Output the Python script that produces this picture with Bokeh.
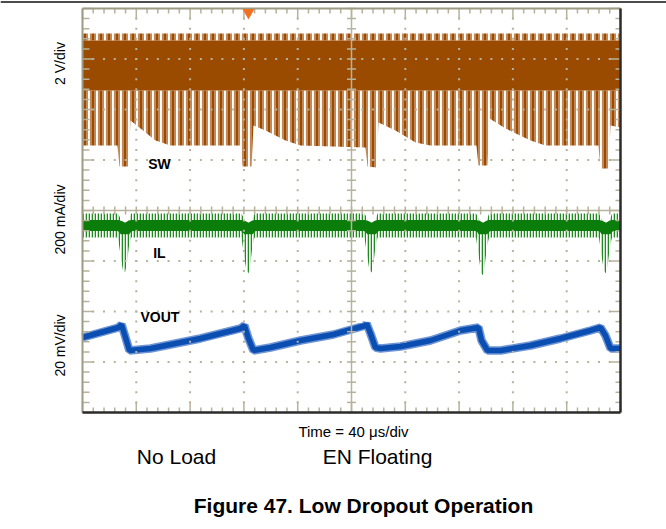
import numpy as np
from bokeh.plotting import figure
from bokeh.models import Range1d, Label
from bokeh.embed import file_html
from bokeh.resources import INLINE

# ---------------- scope settings ----------------
T_PER_DIV = 40.0      # us / div
N_XDIV = 10
N_YDIV = 8
SW_SCALE = 2.0        # V / div
IL_SCALE = 200.0      # mA / div
VOUT_SCALE = 20.0     # mV / div
SW_REF_DIV = 4.0
IL_REF_DIV = 3.5
VOUT_REF_DIV = 1.5
TRIGGER_T = 123.4     # us

# ---------------- SW (V) ----------------
SW_SPIKE_TOP = 7.01
SW_BAND_HIGH = 6.73
SW_BAND_LOW = 4.75
SW_T = [0, 26.0, 27.5, 34.2, 35.7, 43.1, 54.3, 65.4, 117.5, 119.0, 125.7, 127.1,
        136.1, 150.9, 162.1, 210.4, 211.9, 218.6, 220.1, 232.7, 247.6, 258.7,
        292.9, 294.4, 301.1, 302.6, 314.5, 333.1, 344.2, 383.6, 385.1, 391.1,
        392.6, 400]
SW_LOW = [2.57, 2.57, 1.74, 1.74, 3.56, 3.25, 2.77, 2.57, 2.57, 1.74, 1.74, 3.37,
          3.17, 2.77, 2.57, 2.50, 1.74, 1.70, 3.49, 3.17, 2.69, 2.57,
          2.57, 1.78, 1.78, 3.64, 3.25, 2.77, 2.57, 2.57, 1.66, 1.66,
          3.37, 3.29]

# ---------------- IL (mA) ----------------
IL_T = [0,
        26.4, 28.6, 30.1, 31.6, 33.1, 34.6, 36.1,
        118.2, 120.4, 121.9, 123.4, 124.9, 126.4, 127.9,
        209.7, 211.9, 213.4, 214.9, 216.4, 217.9, 219.4,
        292.6, 294.8, 296.3, 297.8, 299.3, 300.8, 302.3,
        384.0, 386.2, 387.7, 389.2, 390.7, 392.2, 393.7,
        400]
IL_HI = [88,
         88, 64, 44, 30, 44, 64, 88,
         88, 64, 44, 30, 44, 64, 88,
         88, 64, 44, 30, 44, 64, 88,
         88, 64, 44, 30, 44, 64, 88,
         88, 64, 44, 30, 44, 64, 88,
         88]
IL_MID = [40.6,
          40.6, 36, 30, 20, 30, 36, 40.6,
          40.6, 36, 30, 20, 30, 36, 40.6,
          40.6, 36, 30, 20, 30, 36, 40.6,
          40.6, 36, 30, 20, 30, 36, 40.6,
          40.6, 36, 30, 20, 30, 36, 40.6,
          40.6]
IL_LO = [-7,
         -7, -90, -137.6, -145.5, -105.9, -38.6, -7,
         -7, -90, -137.6, -149.5, -105.9, -38.6, -7,
         -7, -90, -137.6, -145.5, -105.9, -38.6, -7,
         -7, -90, -145.5, -157.4, -105.9, -38.6, -7,
         -7, -90, -137.6, -149.5, -105.9, -38.6, -7,
         -7]

# ---------------- VOUT (mV, AC) ----------------
VOUT_T = [0, 13.4, 26.8, 29.0, 32.0, 34.9, 50.6, 87.7, 117.5, 120.4, 123.4, 127.1,
          139.8, 162.1, 186.6, 210.4, 211.2, 214.1, 217.8, 221.6, 236.4, 258.7,
          281.0, 294.4, 296.7, 301.1, 310.8, 333.1, 355.4, 377.7, 385.1, 388.8,
          392.6, 400]
VOUT_MV = [-0.3, 1.68, 3.66, 4.85, -0.30, -5.45, -4.65, -0.69, 3.27, 4.46, -0.69, -5.45,
           -4.26, -1.49, 0.89, 4.46, 5.25, 1.29, -4.26, -4.65, -3.86, -1.49,
           2.48, 3.66, -1.49, -5.45, -5.45, -3.47, -0.69, 2.48, 3.66, 0.50,
           -4.65, -4.65]

# ---------------- styles / layout ----------------
FONT = "Liberation Sans"
GRID = "#b6b29b"
FRAME = "#9e9b85"
SW_DARK = "#9b4b00"
SW_LIGHT = "#c28858"
IL_DARK = "#0b7d0b"
IL_LIGHT = "#1f8a1f"
VOUT_DARK = "#0a4eb2"
VOUT_LIGHT = "#6f95d4"

W, H = 666, 529
S_LEFT, S_RIGHT, S_TOP, S_BOTTOM = 82, 620, 8, 412   # scope screen box (px)
XMAX = T_PER_DIV * N_XDIV
PX = XMAX / (S_RIGHT - S_LEFT)          # data x per pixel
PY = N_YDIV / (S_BOTTOM - S_TOP)        # data y per pixel


def sw_div(v):
    return SW_REF_DIV + np.asarray(v, dtype=float) / SW_SCALE


def il_div(v):
    return IL_REF_DIV + np.asarray(v, dtype=float) / IL_SCALE


def vout_div(v):
    return VOUT_REF_DIV + np.asarray(v, dtype=float) / VOUT_SCALE


p = figure(width=W, height=H, output_backend="svg", toolbar_location=None,
           x_range=Range1d(-S_LEFT * PX, XMAX + (W - S_RIGHT) * PX),
           y_range=Range1d(-(H - S_BOTTOM) * PY, N_YDIV + S_TOP * PY),
           x_axis_location=None, y_axis_location=None,
           min_border=0)
p.title.visible = False
p.grid.visible = False
p.outline_line_color = None
p.background_fill_color = "white"
p.border_fill_color = "white"

# ---- SW trace ----
sw_t = np.asarray(SW_T, dtype=float)
band_lo = float(sw_div(SW_BAND_LOW))
band_hi = float(sw_div(SW_BAND_HIGH))
for col, sc, wt in [(SW_LIGHT, 4.0, 2.2), (SW_DARK, 8.0, 2.0)]:
    p.varea(x=sw_t, y1=sw_div(SW_LOW), y2=np.full(len(sw_t), band_lo),
            fill_alpha=0, hatch_pattern="|", hatch_color=col,
            hatch_weight=wt, hatch_scale=sc)
    p.varea(x=[0, XMAX], y1=[band_hi] * 2, y2=[float(sw_div(SW_SPIKE_TOP))] * 2,
            fill_alpha=0, hatch_pattern="|", hatch_color=col,
            hatch_weight=wt, hatch_scale=sc)
p.varea(x=[0, XMAX], y1=[band_lo] * 2, y2=[band_hi] * 2, fill_color=SW_DARK)

# ---- IL trace ----
p.varea(x=IL_T, y1=il_div(IL_LO), y2=il_div(IL_HI),
        fill_alpha=0, hatch_pattern="|", hatch_color=IL_LIGHT,
        hatch_weight=1.6, hatch_scale=3.0)
p.line(IL_T, il_div(IL_MID), line_color=IL_DARK, line_width=11)

# ---- VOUT trace ----
p.line(VOUT_T, vout_div(VOUT_MV), line_color=VOUT_LIGHT, line_width=8.5)
p.line(VOUT_T, vout_div(VOUT_MV), line_color=VOUT_DARK, line_width=5.5)

# ---- graticule: dots ----
minor_x = np.arange(0, XMAX + 1e-9, T_PER_DIV / 5)
minor_y = np.arange(0, N_YDIV + 1e-9, 0.2)
major_x = [T_PER_DIV * i for i in range(1, N_XDIV) if i != N_XDIV // 2]
major_y = [float(i) for i in range(1, N_YDIV) if i != N_YDIV // 2]
dx, dy = [], []
for yy in major_y:
    for xx in minor_x[1:-1]:
        dx.append(xx); dy.append(yy)
for xx in major_x:
    for yy in minor_y[1:-1]:
        dx.append(xx); dy.append(yy)
p.scatter(dx, dy, marker="square", size=2, color=GRID, line_width=0)

# ---- center lines ----
cx, cy = XMAX / 2, N_YDIV / 2
p.segment(x0=[0, cx], y0=[cy, 0], x1=[XMAX, cx], y1=[cy, N_YDIV],
          line_color=GRID, line_width=1.5)

# ---- ticks ----
x0s, y0s, x1s, y1s = [], [], [], []
for xx in minor_x:
    is_major = abs((xx / T_PER_DIV) - round(xx / T_PER_DIV)) < 1e-6
    L = 11 if is_major else 5
    x0s += [xx, xx, xx]
    y0s += [0, N_YDIV, cy - 4 * PY]
    x1s += [xx, xx, xx]
    y1s += [L * PY, N_YDIV - L * PY, cy + 4 * PY]
for yy in minor_y:
    is_major = abs(yy - round(yy)) < 1e-6
    L = 11 if is_major else 7
    Lr = 11 if is_major else 5
    x0s += [0, XMAX, cx - 4.5 * PX]
    y0s += [yy, yy, yy]
    x1s += [L * PX, XMAX - Lr * PX, cx + 4.5 * PX]
    y1s += [yy, yy, yy]
p.segment(x0=x0s, y0=y0s, x1=x1s, y1=y1s, line_color=GRID, line_width=1.5)

# ---- scope frame ----
p.segment(x0=[0, 0], y0=[N_YDIV, 0], x1=[XMAX, 0], y1=[N_YDIV, N_YDIV],
          line_color=FRAME, line_width=2)
p.segment(x0=[0, XMAX], y0=[0, 0], x1=[XMAX, XMAX], y1=[0, N_YDIV],
          line_color="#2b2b2b", line_width=2.5)

# page rule at the very top
p.segment(x0=[-S_LEFT * PX], y0=[N_YDIV + 6.5 * PY], x1=[XMAX + (W - S_RIGHT) * PX],
          y1=[N_YDIV + 6.5 * PY], line_color="#111111", line_width=1.5)

# trigger marker
p.scatter([TRIGGER_T], [N_YDIV - 4 * PY], marker="inverted_triangle", size=12,
          color="#f27022", line_width=0)

# ---- channel labels ----
for txt, t, yv in [("SW", 57.2, 4.93), ("IL", 57.2, 3.15), ("VOUT", 57.6, 1.90)]:
    p.add_layout(Label(x=t, y=yv, text=txt, text_font=FONT, text_font_style="bold",
                       text_font_size="14px", text_align="center", text_baseline="middle",
                       text_color="black"))


# ---- outer labels (screen units, canvas = frame) ----
def screen_label(text, x_ref, y_ref, size, angle=0.0, bold=False):
    p.add_layout(Label(x=x_ref, y=H - y_ref, x_units="screen", y_units="screen",
                       text=text, angle=angle, text_font=FONT,
                       text_font_style="bold" if bold else "normal",
                       text_font_size=size, text_align="center", text_baseline="middle",
                       text_color="black"))


screen_label("2 V/div", 59.5, 63, "14px", angle=np.pi / 2)
screen_label("200 mA/div", 59.5, 219, "14px", angle=np.pi / 2)
screen_label("20 mV/div", 59.5, 345, "14px", angle=np.pi / 2)
screen_label("Time = 40 μs/div", 353, 431, "15px")
screen_label("No Load", 176, 456, "21px")
screen_label("EN Floating", 377, 456, "21px")
screen_label("Figure 47. Low Dropout Operation", 363, 505, "21px", bold=True)

open("out.html", "w").write(file_html(p, INLINE))
